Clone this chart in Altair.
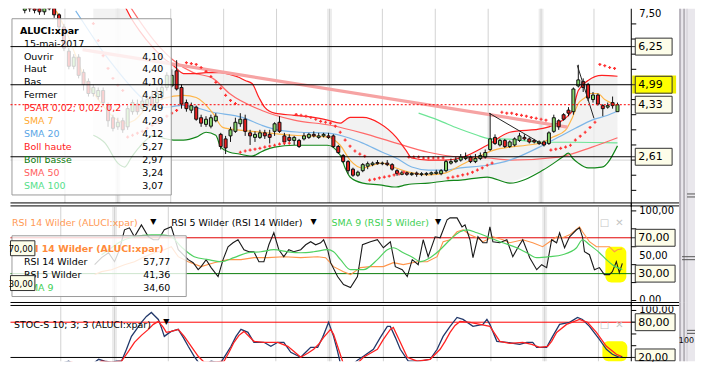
import altair as alt
import pandas as pd

FONT = "DejaVu Sans"

# ---------------------------------------------------------------- price data (ALUCI:xpar)
opens = [7.45,7.70,7.75,7.60,7.40,7.70,7.60,7.30,6.90,6.10,
         5.60,5.90,5.40,5.10,4.70,4.60,4.80,4.30,3.90,3.60,
         3.80,3.60,4.10,4.35,4.20,4.30,4.60,4.40,4.60,4.90,
         4.95,5.45,4.90,4.40,4.15,4.25,3.90,3.68,3.62,3.80,
         3.35,3.20,3.30,3.45,3.70,3.85,3.40,3.25,3.25,3.40,
         3.35,3.45,3.75,3.30,3.25,3.15,3.15,3.20,3.25,3.35,
         3.25,3.30,3.30,3.30,2.95,2.65,2.45,2.20,2.00,2.15,
         2.30,2.35,2.42,2.38,2.40,2.35,2.15,2.03,2.08,2.02,
         2.07,2.02,2.03,2.04,2.06,2.05,2.15,2.40,2.45,2.50,
         2.55,2.60,2.45,2.55,2.60,2.85,3.25,3.00,3.15,2.95,
         3.00,3.15,3.25,3.20,3.15,3.05,3.10,3.05,3.45,3.80,
         4.00,4.15,4.10,4.95,5.10,5.00,4.50,4.65,4.30,4.25,
         4.40,4.10]
highs = [7.80,7.85,7.90,7.75,7.70,7.80,7.70,7.35,7.00,6.20,
         6.00,6.00,5.50,5.20,5.00,4.90,4.90,4.40,4.00,3.90,
         3.90,4.30,4.50,4.50,4.60,4.70,4.80,4.90,5.10,5.40,
         5.50,5.80,5.00,4.50,4.40,4.30,4.00,3.95,4.00,4.05,
         3.40,3.30,3.60,3.90,4.05,4.00,3.50,3.45,3.50,3.50,
         3.50,3.75,3.95,3.40,3.35,3.30,3.20,3.40,3.40,3.45,
         3.40,3.40,3.40,3.35,3.00,2.70,2.50,2.25,2.15,2.40,
         2.45,2.45,2.50,2.45,2.50,2.40,2.20,2.15,2.12,2.10,
         2.12,2.10,2.10,2.12,2.18,2.20,2.50,2.55,2.60,2.70,
         2.75,2.65,2.70,2.75,2.85,4.05,3.35,3.20,3.20,3.15,
         3.25,3.40,3.35,3.25,3.20,3.15,3.15,3.45,4.00,3.85,
         4.05,4.25,4.90,5.65,5.20,5.05,4.75,4.70,4.35,4.40,
         4.60,4.40]
lows = [7.35,7.40,7.35,7.30,7.30,7.45,7.20,6.80,6.10,5.50,
        5.50,5.20,4.80,4.60,4.60,4.50,4.30,3.60,3.45,3.50,
        3.40,3.50,4.00,4.00,4.10,4.20,4.20,4.30,4.50,4.80,
        4.90,4.80,4.20,4.10,4.05,3.80,3.60,3.60,3.55,3.75,
        2.85,2.70,3.10,3.40,3.60,3.30,3.00,3.10,3.20,3.20,
        3.05,3.30,3.40,3.00,3.10,3.00,2.90,3.15,3.20,3.25,
        3.20,3.25,3.20,2.90,2.70,2.40,2.05,1.95,1.95,2.10,
        2.20,2.30,2.35,2.33,2.30,2.15,1.98,2.00,1.98,1.98,
        1.95,1.97,1.98,2.00,2.02,2.00,2.10,2.35,2.40,2.45,
        2.50,2.40,2.40,2.50,2.55,2.80,3.00,2.95,2.90,2.90,
        2.95,3.10,3.15,3.05,3.05,3.00,2.95,3.00,3.40,3.50,
        3.80,3.95,4.00,4.90,4.75,4.45,4.40,4.30,3.95,4.20,
        4.20,4.10]
closes = [7.65,7.50,7.45,7.40,7.60,7.50,7.30,6.90,6.20,5.60,
          5.90,5.30,5.00,4.70,4.90,4.80,4.40,3.80,3.55,3.75,
          3.50,4.20,4.40,4.10,4.45,4.50,4.30,4.70,4.90,5.30,
          5.30,4.85,4.35,4.20,4.30,3.85,3.72,3.85,3.90,3.95,
          2.95,2.90,3.50,3.75,3.85,3.45,3.30,3.35,3.40,3.30,
          3.25,3.70,3.45,3.10,3.15,3.25,2.95,3.30,3.35,3.30,
          3.30,3.35,3.25,2.95,2.75,2.45,2.15,2.00,2.10,2.35,
          2.38,2.40,2.38,2.40,2.35,2.20,2.05,2.08,2.03,2.06,
          2.03,2.05,2.06,2.08,2.10,2.15,2.45,2.45,2.50,2.60,
          2.60,2.45,2.55,2.65,2.75,3.20,3.05,3.15,2.95,3.10,
          3.20,3.30,3.20,3.10,3.10,3.10,3.00,3.40,3.90,3.60,
          3.85,4.05,4.85,5.15,4.90,4.55,4.65,4.35,4.20,4.30,
          4.30,4.33]

# overlays (candle index, value)
boll_pts = [(14,9.74,3.32),(16.4,9.08,3.06),(19,8.03,2.40),(20.4,7.60,2.27),(21.8,7.17,2.60),
            (23.4,6.78,2.93),(26.4,6.18,3.32),(28.4,5.86,3.22),(30.4,5.62,3.16),(32.4,5.36,3.16),
            (35,5.36,3.26),(37,5.39,3.42),(39,5.39,3.32),(40,5.39,2.93),(41.8,5.33,2.76),
            (43.8,5.23,2.70),(45,5.13,2.66),(46.4,5.03,2.63),(47.8,4.57,2.73),(49,4.24,2.83),
            (51,4.05,2.93),(55,3.98,2.99),(59,3.91,2.99),(61.8,3.82,2.99),(64.4,3.72,2.66),
            (65.4,3.82,2.24),(66.4,3.91,1.94),(69,3.91,1.74),(72.4,3.72,1.68),(75.8,3.26,1.61),
            (77.8,2.83,1.68),(79,2.57,1.71),(82.4,2.50,1.74),(85.8,2.50,1.81),(89,2.57,1.84),
            (94.4,2.99,1.94),(99,3.42,1.74),(105.8,3.55,2.17),(109.8,3.82,2.60),(111,3.98,2.73),
            (111.8,4.14,2.57),(113,4.80,2.40),(115,5.13,2.24),(117.8,5.30,2.27),(121,5.27,2.97)]
sma7_pts = [(6.4,7.43),(8.4,6.78),(10.4,5.95),(12.4,5.13),(14.4,4.64),(16.4,4.21),(18.4,3.88),
            (20.4,3.72),(22.4,3.82),(24.4,4.14),(26.4,4.37),(28.4,4.54),(32.4,4.64),(35,4.57),
            (38.4,4.05),(40.4,3.58),(43.8,3.49),(48.4,3.42),(55,3.32),(61.8,3.26),(64.4,2.99),
            (66.4,2.50),(69,2.24),(71,2.33),(73,2.40),(75.8,2.24),(78.4,2.10),(82.4,2.01),
            (85.8,2.07),(89,2.33),(92.4,2.60),(95.8,2.83),(99,2.93),(102.4,2.99),(105.8,3.09),
            (107.8,3.26),(110.4,3.49),(111.8,3.91),(113,4.37),(114.4,4.57),(115.4,4.70),
            (117,4.70),(118.4,4.50),(119.8,4.38),(121,4.29)]
sma20_pts = [(10.4,7.43),(12.4,6.94),(15.8,6.12),(18.4,5.56),(21.8,4.90),(24,4.54),(28.4,4.24),
             (32.4,4.31),(38.4,4.08),(44.4,3.91),(48.4,3.65),(51.8,3.49),(56.4,3.42),(61.8,3.39),
             (66.4,3.22),(69,3.06),(73,2.76),(75.8,2.57),(79,2.27),(82.4,2.17),(85.8,2.17),
             (89,2.24),(94.4,2.33),(99,2.50),(105.8,2.99),(109,3.26),(112.4,3.55),(115.8,3.82),
             (119,3.98),(121,4.12)]
sma50_pts = [(21.4,7.60),(23.4,7.11),(26.4,6.45),(30.4,5.79),(34.4,5.39),(38.4,5.20),(41.8,4.70),
             (48.4,4.14),(55,3.82),(62.4,3.65),(69,3.39),(75.8,3.06),(82.4,2.76),(89,2.60),
             (94.4,2.57),(99,2.50),(109,2.60),(115.8,2.93),(121,3.24)]
sma100_pts = [(80.4,4.05),(84.4,3.82),(88.4,3.55),(92.4,3.32),(94.4,3.22),(99,3.19),(105.8,3.09),
              (112.4,3.09),(121,3.07)]
psar_idx = [13,14,15,16,17,18,19,20,
            21,22,23,24,25,26,27,28,29,30,31,
            33,34,35,36,37,38,39,40,41,42,43,
            44,45,46,47,48,49,50,51,52,53,54,
            55.4,56.4,57.4,58.4,59.4,60.4,61.4,62.4,63.4,64.4,65.4,66.4,67.4,68.4,69.4,
            70.4,71.4,72.4,73.4,74.4,75.4,76.4,77.4,
            78.4,79.4,80.4,81.4,82.4,83.4,84.4,85.4,
            86.4,87.4,88.4,89.4,90.4,91.4,92.4,93.4,94.4,95.4,
            97.4,98.4,99.4,100.4,101.4,102.4,103.4,104.4,105.4,106.4,
            107.4,108.4,109.4,110.4,111.4,112.4,113.4,114.4,115.4,116.4,
            117.4,118.4,119.4,120.4]
psar_val = [7.57,7.01,6.45,5.95,5.53,5.20,4.97,4.80,
            3.26,3.32,3.39,3.45,3.55,3.65,3.75,3.85,3.95,4.05,4.14,
            5.72,5.69,5.66,5.56,5.43,5.26,5.07,4.87,4.64,4.47,4.37,
            2.76,2.80,2.83,2.86,2.89,2.93,2.96,2.99,3.03,3.06,3.06,
            4.01,3.98,3.95,3.91,3.85,3.78,3.75,3.72,3.62,3.42,3.16,2.96,2.80,2.70,2.63,
            1.84,1.87,1.91,1.94,1.97,2.01,2.04,2.10,
            2.60,2.60,2.60,2.57,2.57,2.57,2.57,2.57,
            1.91,1.94,1.97,2.01,2.04,2.10,2.17,2.24,2.33,2.40,
            4.08,4.05,4.05,4.01,3.98,3.95,3.91,3.88,3.85,3.82,
            2.83,2.86,2.89,2.93,2.99,3.16,3.29,3.42,3.58,3.75,
            5.66,5.62,5.56,5.53]
trend_pink = [(11.8,6.15),(110.8,3.59)]
trend_black1 = [(94.8,4.05),(106,2.99)]
trend_black2 = [(112.8,5.63),(116.2,3.88)]
price_levels = [6.25, 4.99, 2.61]
last_close = 4.33
price_ticks = [1.5,2.0,2.5,3.0,3.5,4.0,4.5,5.0,5.5,6.0,6.5,7.0]
price_grid = [2.5, 5.0]

legend_labels = ["Ouvrir","Haut","Bas","Fermer","PSAR 0,02; 0,02; 0,2","SMA 7","SMA 20",
                 "Boll haute","Boll basse","SMA 50","SMA 100"]
legend_values = ["4,10","4,40","4,10","4,33","5,49","4,29","4,12","5,27","2,97","3,24","3,07"]
legend_colors = ["#000000","#000000","#000000","#000000","#ff1a1a","#ffaa33","#5aa6e6",
                 "#ff1a1a","#0a7a0a","#ff6060","#55e08a"]

# RSI panel
rsi5_pts = [(15,40.0),(16.4,47.8),(17.8,53.3),(19,43.3),(20,56.7),(21,78.9),(22,81.1),(23,71.1),
            (24.4,84.4),(25.8,71.1),(26.8,67.8),(27.8,67.8),(29,78.9),(30.4,82.2),(31.8,56.7),
            (32.8,51.1),(33.8,45.6),(34.8,42.2),(35.8,34.4),(36.4,37.8),(37.4,45.6),(38.4,36.7),
            (39.8,26.7),(40.8,45.6),(41.8,60.0),(42.8,64.4),(43.8,67.8),(45,56.7),(46,54.4),
            (47,54.4),(48,43.3),(49,43.3),(50,62.2),(51,75.6),(52,56.7),(53,48.9),(54,56.7),
            (55,54.4),(56.4,56.7),(57.4,62.2),(58.4,65.6),(59.4,62.2),(60.4,64.4),(61,67.8),
            (61.8,56.7),(62.4,42.2),(63.8,26.7),(65,17.8),(66.4,14.4),(67.8,26.7),(68.8,62.2),
            (70.4,65.6),(71.8,67.8),(73,58.9),(74.4,65.6),(75.4,37.8),(76.8,34.4),(77.8,26.7),
            (78.8,45.6),(80,40.0),(81,67.8),(82,48.9),(83.4,71.1),(84.4,70.0),(85.8,90.0),
            (86.4,92.2),(87.8,92.2),(88.8,82.2),(89.4,84.4),(90.4,67.8),(91,47.8),(92,71.1),
            (93,64.4),(93.8,64.4),(94.4,82.2),(95,65.6),(96.4,64.4),(97.8,67.8),(99,48.9),
            (100,58.9),(101,67.8),(102.4,47.8),(103.8,34.4),(104.8,40.0),(105.8,36.7),
            (106.8,67.8),(107.8,64.4),(108.4,75.6),(109.4,58.9),(110.4,71.1),(111.8,78.9),
            (112.4,81.1),(113,71.1),(113.4,54.4),(114.4,51.1),(115.4,34.4),(116.4,36.7),
            (117.4,28.9),(118.4,28.9),(119,32.2),(119.8,43.3),(120.4,31.1),(121,41.36)]
rsi14_pts = [(15,28.9),(16.4,32.2),(18.4,34.4),(21,40.0),(23,43.3),(25,48.9),(27,53.3),(29,56.7),
             (30.4,60.0),(31.8,48.9),(33.8,43.3),(36.4,37.8),(39,42.2),(41.8,45.6),(44.4,45.6),
             (47,47.8),(49.8,47.8),(53,48.9),(56.4,47.8),(59.8,48.9),(61.4,47.8),(63,37.8),
             (65,32.2),(66.4,28.9),(68.4,36.7),(70.4,37.8),(73,37.8),(75,42.2),(77,40.0),
             (79.8,43.3),(81.8,43.3),(83.8,48.9),(85,65.6),(86.4,67.8),(87.8,76.7),(89,78.9),
             (90.4,73.3),(91.8,70.0),(93,65.6),(95,71.1),(97,67.8),(98.4,64.4),(101,67.8),
             (103,64.4),(105,60.0),(106.4,65.6),(107.8,71.1),(109,70.0),(110.4,73.3),
             (112.4,82.2),(113,76.7),(114.4,65.6),(115.8,60.0),(117,60.0),(118.4,60.0),
             (119.4,54.4),(120,56.7),(121,57.77)]
rsi_sma9_pts = [(16.4,51.1),(18.4,58.9),(19.8,64.4),(23,71.1),(26.4,73.3),(28.4,73.3),(30.4,71.1),
                (32.4,60.0),(35,48.9),(37.8,45.6),(40.4,43.3),(43,47.8),(45.8,53.3),(48.4,54.4),
                (51,56.7),(53.8,54.4),(56.4,53.3),(59,54.4),(61.8,56.7),(63,54.4),(64.4,45.6),
                (66.4,34.4),(69,34.4),(71.8,45.6),(73.8,56.7),(75,58.9),(77,53.3),(79,47.8),
                (80.4,43.3),(82.4,47.8),(84.4,56.7),(86.4,67.8),(88.4,76.7),(89.8,78.9),
                (91.8,75.6),(94.4,70.0),(97,64.4),(99.8,58.9),(101.8,53.3),(103.8,47.8),
                (106.4,48.9),(109,51.1),(111.8,58.9),(113,67.8),(114.4,62.2),(116.4,53.3),
                (117.8,45.6),(119,40.0),(120,36.7),(121,34.6)]

# Stochastic panel
stoch_k_pts = [(7.4,8.5),(8.4,10.2),(9.8,13.6),(10.8,8.5),(11.8,5.1),(12.8,3.4),(13.8,3.4),
               (14.8,10.2),(15.8,16.9),(17,13.6),(18.4,11.9),(19.4,13.6),(20.4,13.6),(21.4,33.9),
               (22.4,55.9),(23.4,67.8),(24.4,79.7),(25.4,89.8),(26.4,96.6),(27,91.5),(27.8,84.7),
               (28.4,71.2),(29,55.9),(29.8,61.0),(30.4,64.4),(31.8,67.8),(32.8,54.2),(33.8,39.0),
               (35,22.0),(36.4,5.1),(37.4,8.5),(38.4,13.6),(39.4,11.9),(40.4,11.9),(41.4,25.4),
               (42.4,39.0),(43.4,55.9),(44.4,67.8),(45.8,62.7),(47,45.8),(48,45.8),(49,45.8),
               (50.4,39.0),(51.8,45.8),(53,45.8),(54.4,28.8),(56.4,20.3),(57.4,28.8),(58.4,37.3),
               (59.8,37.3),(60.8,54.2),(62,79.7),(63,55.9),(63.8,30.5),(64.4,8.5),(65.8,5.1),
               (66.4,5.1),(67.8,15.3),(69,22.0),(71,33.9),(72.4,54.2),(73.8,72.9),(74.4,72.9),
               (75.4,54.2),(76.4,33.9),(78,13.6),(80.4,13.6),(82.4,16.9),(83.8,33.9),(85,55.9),
               (86.4,72.9),(87.8,88.1),(89,84.7),(91,72.9),(93,76.3),(93.8,84.7),(94.4,76.3),
               (95.8,47.5),(97.8,45.8),(100.4,42.4),(101.8,45.8),(103,45.8),(103.8,37.3),
               (105.8,37.3),(107,55.9),(108.4,76.3),(110.4,79.7),(112,88.1),(113,84.7),
               (114.4,72.9),(116.4,50.8),(117.8,33.9),(119,25.4),(120.4,20.3),(121,22.0)]
stoch_d_pts = [(8,8.5),(9.2,10.2),(10.4,11.9),(11.4,8.5),(12.4,5.1),(13.4,3.4),(14.4,3.4),
               (15.4,8.5),(16.4,13.6),(18.4,11.9),(20.4,13.6),(21.8,30.5),(23,45.8),(24.4,57.6),
               (25.8,67.8),(26.8,76.3),(27.8,81.4),(28.8,71.2),(29.4,62.7),(30.4,64.4),(31.8,67.8),
               (33,55.9),(34.4,39.0),(35.8,22.0),(37,11.9),(39,11.9),(41,13.6),(42,28.8),(43,45.8),
               (44,57.6),(45,64.4),(47,47.5),(49,45.8),(51.8,45.8),(53.8,39.0),(55,30.5),
               (56.4,20.3),(57.8,27.1),(59,33.9),(60,42.4),(61,54.2),(62.4,67.8),(63,59.3),
               (63.8,39.0),(65,8.5),(66.4,5.1),(67.8,10.2),(69,20.3),(70.4,27.1),(71.8,33.9),
               (73,50.8),(74.4,67.8),(75,71.2),(76.4,45.8),(77.8,20.3),(79.8,13.6),(82.4,16.9),
               (84.4,33.9),(85.4,47.5),(86.4,62.7),(87.4,74.6),(88.4,81.4),(90.4,79.7),
               (92.4,76.3),(94.4,72.9),(96.4,47.5),(98.4,44.1),(101,45.8),(102.8,42.4),
               (104.4,37.3),(106,39.0),(106.8,47.5),(107.8,62.7),(109.8,76.3),(112.4,84.7),
               (114,79.7),(115.8,62.7),(117.8,39.0),(119.8,25.4),(120.8,22.0)]

grid_idx = [8.2, 19.0, 29.8, 40.6, 51.4, 62.2, 73.0, 83.8, 94.6, 105.4, 116.2]
month_idx = [19.0, 62.2, 105.4]

# ---------------------------------------------------------------- layout
# (whole drawing kept inside 688 x 354 so the page never overflows the window)
X_DOM = [-2.0, 122.8]
W = 624
RIGHT = 696                       # page x of the right end of the drawing
H1, H2, H3 = 195, 96, 55
TOP1, TOP2, TOP3 = 8, 207, 307
BOTTOM = TOP3 + H3                # 362
P_DOM = [1.0845, 7.5]
R_DOM = [-2.222, 104.444]
S_DOM = [13.56, 106.78]

XS = alt.Scale(domain=X_DOM, nice=False, zero=False)
def yscale(dom):
    return alt.Scale(domain=dom, nice=False, zero=False)
PS, RS, SS = yscale(P_DOM), yscale(R_DOM), yscale(S_DOM)

def page_y(v, dom, h, top):
    return top + (dom[1] - v) / (dom[1] - dom[0]) * h

def one():
    return alt.Data(values=[{"a": 1}])

def T(top, x, y, s, color="#000000", size=9.5, align="left", bold=False, clip=False, baseline="middle"):
    return alt.Chart(one()).mark_text(
        text=s, align=align, baseline=baseline, font=FONT, fontSize=size,
        fontWeight="bold" if bold else "normal", color=color, clip=clip,
    ).encode(x=alt.value(x - 8), y=alt.value(y - top))

def R(top, x0, y0, x1, y1, fill, stroke=None, fo=1.0, r=0):
    kw = dict(fill=fill, fillOpacity=fo, cornerRadius=r)
    if stroke:
        kw.update(stroke=stroke, strokeWidth=1)
    else:
        kw.update(strokeWidth=0)
    return alt.Chart(one()).mark_rect(**kw).encode(
        x=alt.value(x0 - 8), x2=alt.value(x1 - 8), y=alt.value(y0 - top), y2=alt.value(y1 - top))

def HL(top, x0, x1, y, color, sw=1):
    return alt.Chart(one()).mark_rule(color=color, strokeWidth=sw).encode(
        x=alt.value(x0 - 8), x2=alt.value(x1 - 8), y=alt.value(y - top))

def line(pts, ys, color, sw=1.0, interp="linear", clip=True, opacity=1.0):
    df = pd.DataFrame(pts, columns=["i", "v"])
    return alt.Chart(df).mark_line(color=color, strokeWidth=sw, interpolate=interp,
                                   clip=clip, opacity=opacity).encode(
        x=alt.X("i:Q", scale=XS, axis=None), y=alt.Y("v:Q", scale=ys, axis=None))

def hlevels(vals, ys, color, sw=1, dash=None, x0=0.5, x1=W):
    kw = dict(color=color, strokeWidth=sw)
    if dash:
        kw["strokeDash"] = dash
    return alt.Chart(pd.DataFrame({"v": vals})).mark_rule(**kw).encode(
        y=alt.Y("v:Q", scale=ys, axis=None), x=alt.value(x0), x2=alt.value(x1))

def vgrid(h):
    thick = alt.Chart(pd.DataFrame({"i": month_idx})).transform_calculate(
        a="datum.i - 0.5", b="datum.i + 0.5").mark_rect(color="#ececec").encode(
        x=alt.X("a:Q", scale=XS, axis=None), x2="b:Q", y=alt.value(0), y2=alt.value(h))
    thin = alt.Chart(pd.DataFrame({"i": grid_idx})).transform_calculate(
        a="datum.i - 0.1", b="datum.i + 0.1").mark_rect(color="#d2d2d2").encode(
        x=alt.X("a:Q", scale=XS, axis=None), x2="b:Q", y=alt.value(0), y2=alt.value(h))
    return [thick, thin]

def axis_box(top, yc, s, x1=673, fill="#fdfde9", y1=None, size=11):
    yb = yc + 8.5 if y1 is None else y1
    return [HL(top, 632, 636, yc, "#303030"),
            R(top, 636, yc - 8.5, x1, yb, fill, stroke="#303030"),
            T(top, 639, yc + 0.5, s, size=size)]

def strip(top, y0, y1):
    return [R(top, 680, y0, RIGHT, y1, "#e9e7ec"),
            R(top, 680, y0, 682, y1, "#b8b4bc"),
            R(top, 684.5, y0, 685.5, y1, "#8a868e"),
            R(top, 687.5, y0, 688.5, y1, "#cfccd3"),
            R(top, 631.5, y0, 632.5, y1, "#000000")]

# ---------------------------------------------------------------- top panel
cdf = pd.DataFrame({"i": list(range(len(closes))), "o": opens, "h": highs, "l": lows, "c": closes})
bdf = pd.DataFrame(boll_pts, columns=["i", "hi", "lo"])

band = alt.Chart(bdf).mark_area(color="#ededed", opacity=0.75, clip=True).encode(
    x=alt.X("i:Q", scale=XS, axis=None), y=alt.Y("hi:Q", scale=PS, axis=None), y2="lo:Q")
boll_hi = alt.Chart(bdf).mark_line(color="#ff2020", strokeWidth=1.2, interpolate="monotone", clip=True).encode(
    x=alt.X("i:Q", scale=XS, axis=None), y=alt.Y("hi:Q", scale=PS, axis=None))
boll_lo = alt.Chart(bdf).mark_line(color="#13861a", strokeWidth=1.2, interpolate="monotone", clip=True).encode(
    x=alt.X("i:Q", scale=XS, axis=None), y=alt.Y("lo:Q", scale=PS, axis=None))

wicks = alt.Chart(cdf).mark_rule(color="#111111", strokeWidth=1, clip=True).encode(
    x=alt.X("i:Q", scale=XS, axis=None), y=alt.Y("l:Q", scale=PS, axis=None), y2="h:Q")
up = alt.Chart(cdf).transform_filter("datum.c >= datum.o").mark_bar(
    size=3, fill="#86d66b", stroke="#111111", strokeWidth=1, clip=True).encode(
    x=alt.X("i:Q", scale=XS, axis=None), y=alt.Y("o:Q", scale=PS, axis=None), y2="c:Q")
down = alt.Chart(cdf).transform_filter("datum.c < datum.o").mark_bar(
    size=3, fill="#e82020", stroke="#111111", strokeWidth=1, clip=True).encode(
    x=alt.X("i:Q", scale=XS, axis=None), y=alt.Y("o:Q", scale=PS, axis=None), y2="c:Q")
psar = alt.Chart(pd.DataFrame({"i": psar_idx, "v": psar_val})).mark_point(
    shape="cross", filled=True, size=9, color="#ff3030", opacity=1, clip=True).encode(
    x=alt.X("i:Q", scale=XS, axis=None), y=alt.Y("v:Q", scale=PS, axis=None))

top_layers = []
top_layers += vgrid(H1)
top_layers += [hlevels(price_grid, PS, "#d4d4d4"), band,
               line(sma100_pts, PS, "#6de596", 1.2, "monotone"),
               line(sma50_pts, PS, "#ff6a6a", 1.2, "monotone"),
               boll_hi, boll_lo,
               line(sma20_pts, PS, "#7db6e8", 1.2, "monotone"),
               line(sma7_pts, PS, "#ffb547", 1.2, "monotone"),
               line(trend_pink, PS, "#f6a3a3", 3.2),
               wicks, up, down, psar,
               line(trend_black1, PS, "#222222", 1),
               line(trend_black2, PS, "#222222", 1),
               R(TOP1, 10, 18, 170, 195, "#ffffff", stroke="#9a9a9a", fo=0.8),
               hlevels(price_levels, PS, "#000000", 1),
               hlevels([last_close], PS, "#ff0000", 1, dash=[2, 2]),
               T(TOP1, 18, 30, "ALUCI:xpar", bold=True),
               T(TOP1, 22, 43, "15-mai-2017")]
for k, (lab, val, col) in enumerate(zip(legend_labels, legend_values, legend_colors)):
    yk = 56 + 13 * k
    top_layers.append(T(TOP1, 22, yk, lab, color=col))
    top_layers.append(T(TOP1, 162, yk, val, align="right"))
top_layers += [hlevels(price_ticks, PS, "#000000", 1, x0=W, x1=W + 5),
               T(TOP1, 640, 8.5, "7,50", size=10, baseline="top")]
top_layers += axis_box(TOP1, page_y(6.25, P_DOM, H1, TOP1), "6,25")
top_layers += [R(TOP1, 633, 75, 677, 93, "#eeee00")]
top_layers += axis_box(TOP1, page_y(4.99, P_DOM, H1, TOP1), "4,99", fill="#ffff00")
top_layers += axis_box(TOP1, page_y(4.33, P_DOM, H1, TOP1), "4,33")
top_layers += axis_box(TOP1, page_y(2.61, P_DOM, H1, TOP1), "2,61")
top_layers += strip(TOP1, 8, 207)
top_layers += [HL(TOP1, 688, RIGHT, 194, "#555555"), HL(TOP1, 688, RIGHT, 197, "#555555"),
               HL(TOP1, 8.5, 680, 203, "#000000")]
top = alt.layer(*top_layers).properties(width=W, height=H1)

# ---------------------------------------------------------------- RSI panel
mid_layers = []
mid_layers += vgrid(H2)
mid_layers += [R(TOP2, 606, 247, 627, 283, "#ffff00", r=6),
               hlevels([70], RS, "#e00000", 1),
               hlevels([30], RS, "#0b7d0b", 1),
               line(rsi14_pts, RS, "#ff944a", 1.1),
               line(rsi5_pts, RS, "#1a1a1a", 1.1),
               line(rsi_sma9_pts, RS, "#4fd160", 1.2, "monotone"),
               R(TOP2, 10, 236, 185, 297, "#ffffff", stroke="#9a9a9a", fo=0.8),
               T(TOP2, 19, 249, "RSI 14 Wilder (ALUCI:xpar)", color="#ff8a3a", bold=True),
               T(TOP2, 22, 262, "RSI 14 Wilder"), T(TOP2, 169, 262, "57,77", align="right"),
               T(TOP2, 22, 275, "RSI 5 Wilder"), T(TOP2, 169, 275, "41,36", align="right"),
               T(TOP2, 22, 288, "SMA 9", color="#3fcf55"), T(TOP2, 169, 288, "34,60", align="right"),
               R(TOP2, 8.5, 241, 33, 256, "#fdfde9", stroke="#303030"),
               T(TOP2, 31, 249, "70,00", align="right", size=8.5),
               R(TOP2, 8.5, 276, 33, 291, "#fdfde9", stroke="#303030"),
               T(TOP2, 31, 284, "30,00", align="right", size=8.5),
               T(TOP2, 10, 223, "RSI 14 Wilder (ALUCI:xpar)", color="#ff9a55"),
               T(TOP2, 152, 222, "\u25bc", size=8, align="center"),
               T(TOP2, 170, 223, "RSI 5 Wilder (RSI 14 Wilder)"),
               T(TOP2, 313, 222, "\u25bc", size=8, align="center"),
               T(TOP2, 331, 223, "SMA 9 (RSI 5 Wilder)", color="#3fcf55"),
               T(TOP2, 438, 222, "\u25bc", size=8, align="center"),
               T(TOP2, 605, 223, "\u25a1", color="#c4c4c4", size=10, align="center"),
               T(TOP2, 620, 223, "\u2715", color="#c4c4c4", size=10, align="center"),
               hlevels([0, 20, 40, 60, 80, 100], RS, "#000000", 1, x0=W, x1=W + 5),
               T(TOP2, 640, 211, "100,00", size=10),
               T(TOP2, 640, 256, "50,00", size=10),
               T(TOP2, 640, 301, "0,00", size=10)]
mid_layers += axis_box(TOP2, page_y(70, R_DOM, H2, TOP2), "70,00", x1=676)
mid_layers += axis_box(TOP2, page_y(30, R_DOM, H2, TOP2), "30,00", x1=676)
mid_layers += strip(TOP2, 203, 307)
mid_layers += [HL(TOP2, 8.5, 680, 206, "#000000"),
               HL(TOP2, 683, RIGHT, 257, "#555555"), HL(TOP2, 683, RIGHT, 260, "#555555")]
mid = alt.layer(*mid_layers).properties(width=W, height=H2)

# ---------------------------------------------------------------- Stochastic panel
bot_layers = []
bot_layers += vgrid(H3)
bot_layers += [R(TOP3, 603, 342, 628, BOTTOM, "#ffff00", r=6),
               hlevels([80], SS, "#ff0000", 1),
               hlevels([20], SS, "#000000", 1),
               line(stoch_k_pts, SS, "#22386a", 1.3),
               line(stoch_d_pts, SS, "#ff2222", 1.3),
               T(TOP3, 12, 326, "STOC-S 10; 3; 3 (ALUCI:xpar)"),
               T(TOP3, 165, 323, "\u25bc", size=8, align="center"),
               T(TOP3, 605, 326, "\u25a1", color="#c4c4c4", size=10, align="center"),
               T(TOP3, 620, 326, "\u2715", color="#c4c4c4", size=10, align="center"),
               hlevels([20, 40, 60, 80, 100], SS, "#000000", 1, x0=W, x1=W + 5),
               T(TOP3, 640, 311, "100,00", size=10)]
bot_layers += axis_box(TOP3, page_y(80, S_DOM, H3, TOP3), "80,00", x1=676)
bot_layers += axis_box(TOP3, page_y(20, S_DOM, H3, TOP3), "20,00", x1=676, y1=BOTTOM - 0.5, size=10.5)
bot_layers += [R(TOP3, 632.5, 302, 680, 307, "#ffffff")]
bot_layers += strip(TOP3, 303, BOTTOM)
bot_layers += [HL(TOP3, 8.5, 680, 303, "#000000"), HL(TOP3, 8.5, 680, 306, "#000000"),
               HL(TOP3, 688, RIGHT, 331, "#555555"), HL(TOP3, 688, RIGHT, 334, "#555555"),
               T(TOP3, RIGHT - 1, 342, "100", size=8, align="right")]
bot = alt.layer(*bot_layers).properties(width=W, height=H3)

chart = alt.vconcat(top, mid, bot, spacing=4, bounds="flush", padding=0,
                    background="white").configure_view(stroke=None)

chart.save("out.html", embed_options={"renderer": "svg", "actions": False})
